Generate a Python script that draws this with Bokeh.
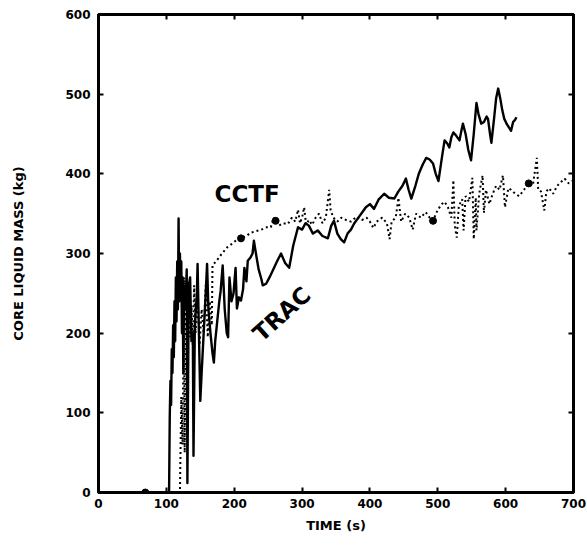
from bokeh.plotting import figure
from bokeh.models import Label, FixedTicker, LinearAxis, CustomLabelingPolicy
from bokeh.embed import file_html
from bokeh.resources import INLINE
import math

# TRAC calculated core liquid mass (kg) vs time (s)
trac_t = [0, 50, 103, 104, 105, 106, 107, 108, 109, 110, 111, 112, 113, 114, 115, 116,
          117, 118, 119, 120, 121, 122, 123, 124, 125, 126, 128, 130, 131, 133, 135, 137,
          139, 140, 142, 145, 146, 148, 150, 152, 155, 158, 160, 162, 165, 168, 170, 172,
          175, 178, 180, 183, 186, 189, 191, 193, 196, 199, 202, 204, 207, 210, 213, 215,
          218, 220, 224, 227, 229, 232, 236, 240, 242, 247, 252, 257, 263, 269, 275, 281,
          287, 294, 300, 305, 310, 316, 323, 330, 338, 343, 347, 352, 357, 362, 367, 372,
          377, 383, 389, 394, 400, 406, 413, 421, 428, 436, 442, 448, 453, 457, 461, 467,
          472, 478, 483, 488, 493, 497, 501, 506, 510, 514, 517, 520, 523, 527, 532, 535,
          537, 541, 545, 549, 553, 557, 560, 564, 568, 572, 574, 577, 579, 583, 586, 589,
          592, 595, 598, 602, 605, 608, 611, 614, 616]
trac_m = [0, 0, 0, 0, 95, 140, 110, 180, 150, 210, 170, 240, 190, 270, 215, 290,
          230, 344, 240, 300, 250, 290, 200, 270, 150, 260, 230, 280, 12, 260, 270, 190,
          200, 46, 210, 250, 287, 200, 115, 150, 200, 250, 287, 230, 200, 175, 163, 190,
          215, 240, 253, 285, 230, 200, 195, 270, 240, 250, 282, 231, 245, 241, 255, 282,
          265, 291, 295, 300, 316, 300, 280, 268, 260, 262, 270, 279, 290, 300, 288, 282,
          310, 333, 330, 338, 335, 325, 329, 322, 319, 335, 341, 325, 318, 314, 325, 330,
          338, 345, 352, 358, 362, 356, 368, 375, 370, 369, 378, 385, 394, 380, 369, 385,
          400, 412, 420, 418, 413, 400, 391, 420, 442, 438, 433, 446, 452, 448, 442, 455,
          463, 450, 430, 417, 450, 489, 475, 463, 465, 472, 469, 450, 439, 470, 495, 507,
          495, 480, 469, 462, 458, 454, 465, 468, 471]

# CCTF measured core liquid mass (kg) vs time (s)
cctf_t = [0, 110, 120, 122, 124, 126, 127, 129, 131, 133, 135, 137, 139, 141, 143, 146,
          149, 152, 155, 158, 161, 164, 167, 168, 175, 182, 190, 198, 205, 210, 218, 224,
          232, 240, 248, 254, 258, 261, 266, 272, 279, 285, 290, 294, 297, 300, 303, 306,
          310, 315, 320, 325, 330, 335, 340, 342, 346, 352, 358, 365, 372, 380, 388, 395,
          400, 405, 410, 418, 425, 429, 432, 438, 442, 446, 452, 458, 463, 468, 475, 482,
          488, 493, 500, 506, 510, 515, 520, 523, 525, 528, 531, 536, 538, 541, 546, 551,
          553, 556, 557, 561, 566, 568, 571, 576, 581, 586, 591, 596, 599, 604, 608, 614,
          620, 627, 634, 640, 646, 648, 652, 657, 660, 664, 670, 676, 682, 687, 693, 700]
cctf_m = [0, 0, 0, 120, 60, 270, 50, 230, 180, 250, 195, 235, 185, 260, 200, 245,
          185, 230, 200, 260, 195, 240, 210, 285, 292, 300, 308, 313, 318, 319, 322, 326,
          328, 330, 333, 333, 345, 341, 335, 338, 337, 345, 340, 355, 338, 345, 358, 336,
          342, 336, 345, 350, 338, 345, 380, 355, 345, 340, 345, 342, 340, 346, 342, 345,
          340, 332, 340, 345, 338, 318, 340, 345, 370, 340, 350, 345, 330, 350, 345, 352,
          345, 341, 355, 362, 365, 358, 345, 392, 335, 320, 360, 368, 329, 372, 365, 395,
          318, 370, 329, 375, 398, 351, 380, 362, 375, 385, 380, 398, 358, 382, 380, 375,
          372, 380, 388, 385, 420, 380, 378, 354, 378, 382, 375, 385, 390, 394, 388, 392]

# heavier plotted points on the CCTF trace
cctf_pt_t = [69, 210, 261, 493, 634]
cctf_pt_m = [0, 319, 341, 341, 388]

x_ticks = [0, 100, 200, 300, 400, 500, 600, 700]
y_ticks = [0, 100, 200, 300, 400, 500, 600]

FONT = "DejaVu Sans"

p = figure(width=587, height=548, x_range=(0, 700), y_range=(0, 600),
           output_backend="svg", toolbar_location=None,
           min_border_left=98, min_border_right=14, min_border_top=14, min_border_bottom=56)
p.grid.visible = False
p.background_fill_color = "white"
p.border_fill_color = "white"
p.outline_line_color = "black"
p.outline_line_width = 3

for ax in (p.xaxis[0], p.yaxis[0]):
    ax.axis_line_width = 3
    ax.axis_line_color = "black"
    ax.major_tick_in = 5
    ax.major_tick_out = 0
    ax.minor_tick_line_color = None
    ax.major_tick_line_width = 2
    ax.major_tick_line_color = "black"
    ax.major_label_text_font = FONT
    ax.major_label_text_font_style = "bold"
    ax.major_label_text_font_size = "12px"
    ax.major_label_text_color = "black"
    ax.axis_label_text_font = FONT
    ax.axis_label_text_font_style = "bold"
    ax.axis_label_text_font_size = "13px"
    ax.axis_label_text_color = "black"

p.xaxis[0].ticker = FixedTicker(ticks=x_ticks)
p.yaxis[0].ticker = FixedTicker(ticks=y_ticks)
p.xaxis[0].axis_label = "TIME (s)"
p.yaxis[0].axis_label = "CORE LIQUID MASS (kg)"
p.xaxis[0].major_label_standoff = 6
p.xaxis[0].axis_label_standoff = 7
p.yaxis[0].major_label_standoff = 8
p.yaxis[0].axis_label_standoff = 36

# tick marks only (no labels) along the top and right frame edges
no_labels = CustomLabelingPolicy(code="return new Set()")
for loc, ticks in (("right", y_ticks), ("above", x_ticks)):
    ax = LinearAxis(ticker=FixedTicker(ticks=ticks), major_label_policy=no_labels,
                    major_label_text_font_size="1px",
                    major_tick_in=5, major_tick_out=0, minor_tick_line_color=None,
                    axis_line_width=3, axis_line_color="black",
                    major_tick_line_width=2, major_tick_line_color="black",
                    major_label_standoff=0)
    p.add_layout(ax, loc)

p.line(cctf_t, cctf_m, line_color="black", line_width=2, line_dash="2 3")
p.scatter(cctf_pt_t, cctf_pt_m, size=7, fill_color="black", line_color="black")
p.line(trac_t, trac_m, line_color="black", line_width=2.4, line_join="round")

p.add_layout(Label(x=219, y=375, text="CCTF", text_font=FONT, text_font_style="bold",
                   text_font_size="23px", text_color="black",
                   text_align="center", text_baseline="middle"))
p.add_layout(Label(x=270, y=224, text="TRAC", text_font=FONT, text_font_style="bold",
                   text_font_size="23px", text_color="black",
                   text_align="center", text_baseline="middle",
                   angle=42 * math.pi / 180))

open("out.html", "w").write(file_html(p, INLINE))
